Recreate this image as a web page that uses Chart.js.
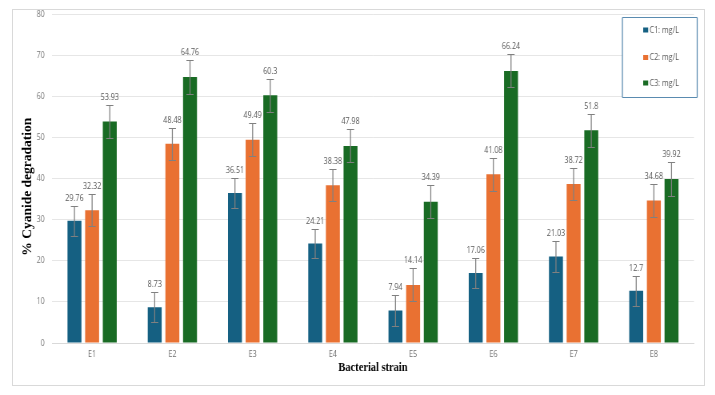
<!DOCTYPE html>
<html>
<head>
<meta charset="utf-8">
<script src="https://cdn.jsdelivr.net/npm/chart.js@4.4.1/dist/chart.umd.min.js"></script>
<style>
html,body{margin:0;padding:0;background:#fff;}
#wrap{position:relative;width:715px;height:395px;overflow:hidden;background:#fff;}
#c{position:absolute;left:0;top:0;width:894px;height:395px;transform:scaleX(0.8);transform-origin:0 0;}
#frame{position:absolute;left:12px;top:9px;width:691px;height:375px;border:1px solid #d9d9d9;pointer-events:none;}
</style>
</head>
<body>
<div id="wrap"><canvas id="c" width="894" height="395"></canvas><div id="frame"></div></div>
<script>
const categories = ["E1","E2","E3","E4","E5","E6","E7","E8"];
const seriesNames = ["C1: mg/L","C2: mg/L","C3: mg/L"];
const c1Values = [29.76, 8.73, 36.51, 24.21, 7.94, 17.06, 21.03, 12.7];
const c2Values = [32.32, 48.48, 49.49, 38.38, 14.14, 41.08, 38.72, 34.68];
const c3Values = [53.93, 64.76, 60.3, 47.98, 34.39, 66.24, 51.8, 39.92];
const c1Errors = [3.7, 3.7, 3.6, 3.6, 3.7, 3.7, 3.7, 3.6];
const c2Errors = [3.9, 3.9, 4.0, 3.9, 4.0, 4.0, 4.0, 4.0];
const c3Errors = [4.1, 4.1, 4.0, 4.0, 4.0, 4.0, 4.0, 4.1];
const yTicks = [0,10,20,30,40,50,60,70,80];
const yTitle = "% Cyanide degradation";
const xTitle = "Bacterial strain";
const colors = ["#156082", "#E97132", "#196B24"];

const errorPlugin = {
  id: 'errorBarsLabels',
  afterDatasetsDraw(chart) {
    const ctx = chart.ctx;
    const y = chart.scales.y;
    ctx.save();
    chart.data.datasets.forEach((ds, di) => {
      const meta = chart.getDatasetMeta(di);
      meta.data.forEach((bar, i) => {
        const v = ds.data[i];
        const e = ds.errors[i];
        const x = bar.x;
        const yt = Math.round(y.getPixelForValue(v + e)) + 0.5;
        const yb = Math.round(y.getPixelForValue(v - e)) + 0.5;
        ctx.strokeStyle = '#808080';
        ctx.lineWidth = 1.25;
        ctx.beginPath();
        ctx.moveTo(x, yt);
        ctx.lineTo(x, yb);
        ctx.stroke();
        ctx.lineWidth = 1;
        ctx.beginPath();
        ctx.moveTo(x - 4.5, yt);
        ctx.lineTo(x + 4.5, yt);
        ctx.moveTo(x - 4.5, yb);
        ctx.lineTo(x + 4.5, yb);
        ctx.stroke();
        ctx.fillStyle = '#595959';
        ctx.font = '9px "Open Sans", sans-serif';
        ctx.textAlign = 'center';
        ctx.textBaseline = 'middle';
        ctx.fillText(String(v), x, yt - 8.5);
      });
    });
    ctx.restore();
  }
};

const yTitlePlugin = {
  id: 'yTitle',
  afterDraw(chart) {
    const ctx = chart.ctx;
    const area = chart.chartArea;
    ctx.save();
    ctx.translate(35, (area.top + area.bottom) / 2 + 8);
    ctx.scale(1.25, 1);
    ctx.rotate(-Math.PI / 2);
    ctx.fillStyle = '#000';
    ctx.font = 'bold 13.5px "Liberation Serif", serif';
    ctx.textAlign = 'center';
    ctx.textBaseline = 'middle';
    ctx.fillText(yTitle, 0, 0);
    ctx.restore();
  }
};

const legendPlugin = {
  id: 'boxLegend',
  afterDraw(chart) {
    const ctx = chart.ctx;
    ctx.save();
    const bx = 778, by = 17.5, bw = 93.5, bh = 80;
    ctx.fillStyle = '#fff';
    ctx.fillRect(bx, by, bw, bh);
    ctx.strokeStyle = '#5a8bb0';
    ctx.lineWidth = 1;
    ctx.beginPath();
    ctx.moveTo(bx, by); ctx.lineTo(bx + bw, by);
    ctx.moveTo(bx, by + bh); ctx.lineTo(bx + bw, by + bh);
    ctx.stroke();
    ctx.lineWidth = 1.25;
    ctx.beginPath();
    ctx.moveTo(bx, by); ctx.lineTo(bx, by + bh);
    ctx.moveTo(bx + bw, by); ctx.lineTo(bx + bw, by + bh);
    ctx.stroke();
    const ys = [30, 57.5, 83];
    chart.data.datasets.forEach((ds, i) => {
      ctx.fillStyle = ds.backgroundColor;
      ctx.fillRect(804, ys[i] - 2.5, 6.25, 5);
      ctx.fillStyle = '#595959';
      ctx.font = '9px "Open Sans", sans-serif';
      ctx.textAlign = 'left';
      ctx.textBaseline = 'middle';
      ctx.fillText(ds.label, 812, ys[i]);
    });
    ctx.restore();
  }
};

new Chart(document.getElementById('c'), {
  type: 'bar',
  data: {
    labels: categories,
    datasets: [
      { label: seriesNames[0], data: c1Values, errors: c1Errors, backgroundColor: colors[0] },
      { label: seriesNames[1], data: c2Values, errors: c2Errors, backgroundColor: colors[1] },
      { label: seriesNames[2], data: c3Values, errors: c3Errors, backgroundColor: colors[2] }
    ]
  },
  options: {
    responsive: false,
    animation: false,
    devicePixelRatio: 1,
    layout: { padding: { left: 16, right: 26.5, top: 14, bottom: 20 } },
    datasets: { bar: { categoryPercentage: 0.66, barPercentage: 0.79 } },
    plugins: { legend: { display: false }, tooltip: { enabled: false } },
    scales: {
      x: {
        grid: { display: false, drawTicks: false },
        border: { display: true, color: '#d9d9d9' },
        ticks: { color: '#6f6f6f', font: { family: '"Open Sans", sans-serif', size: 9 }, padding: 6 },
        title: { display: true, text: xTitle, color: '#000',
                 font: { family: '"Liberation Serif", serif', size: 13, weight: 'bold' },
                 padding: { top: 0, bottom: 0 } },
        afterFit(s) { s.height = 32; }
      },
      y: {
        min: 0, max: 80,
        afterBuildTicks(s) { s.ticks = yTicks.map(v => ({ value: v })); },
        grid: { color: '#e6e6e6', drawTicks: false },
        border: { display: false },
        ticks: { color: '#7a7a7a', font: { family: '"Open Sans", sans-serif', size: 9 }, padding: 9 },
        title: { display: false },
        afterFit(s) { s.width = 49; }
      }
    }
  },
  plugins: [errorPlugin, legendPlugin, yTitlePlugin]
});
</script>
</body>
</html>
